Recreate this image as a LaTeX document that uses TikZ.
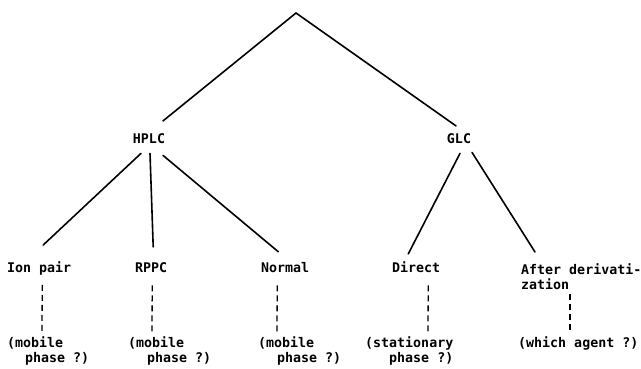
\documentclass[tikz,border=0pt]{standalone}
\usepackage{fontspec}
\newfontfamily\lblfont{DejaVu Sans Mono}
\usetikzlibrary{calc}
\begin{document}
\begin{tikzpicture}[x=1pt,y=-1pt,
  lbl/.style={font=\lblfont\bfseries\fontsize{13.3}{15}\selectfont, inner sep=0pt},
  branch/.style={line width=1.6pt, line cap=round},
  dashline/.style={line width=1.3pt, dash pattern=on 6pt off 4pt}]
\fill[white] (0,0) rectangle (641,369);
\useasboundingbox (0,0) rectangle (641,369);

\coordinate (apex) at (296,13);
\node[lbl, anchor=base] (hplc) at (149,143) {HPLC};
\node[lbl, anchor=base] (glc) at (459,143) {GLC};

\node[lbl, anchor=base west] (ion) at (7,272) {Ion pair};
\node[lbl, anchor=base west] (rppc) at (135,272) {RPPC};
\node[lbl, anchor=base west] (normal) at (261,272) {Normal};
\node[lbl, anchor=base west] (direct) at (392,272) {Direct};
\node[lbl, anchor=north west, align=left] (after) at (521,263) {After derivati-\\zation};

\node[lbl, anchor=north west, align=left] (q1) at (7,336) {(mobile\\\hspace*{18pt}phase ?)};
\node[lbl, anchor=north west, align=left] (q2) at (128,336) {(mobile\\\hspace*{19pt}phase ?)};
\node[lbl, anchor=north west, align=left] (q3) at (258,336) {(mobile\\\hspace*{19pt}phase ?)};
\node[lbl, anchor=north west, align=right] (q4) at (365,336) {(stationary\\phase ?)};
\node[lbl, anchor=north west] (q5) at (518,336) {(which agent ?)};

% top level
\draw[branch] ([xshift=14pt,yshift=12pt]hplc.north) -- (apex) -- ([xshift=-3pt,yshift=7pt]glc.north);

% HPLC children
\draw[branch] ([xshift=-8pt,yshift=-10pt]hplc.south) -- ([xshift=4pt,yshift=16pt]ion.north);
\draw[branch] ([xshift=1pt,yshift=-10pt]hplc.south) -- ([xshift=2pt,yshift=15pt]rppc.north);
\draw[branch] ([xshift=14pt,yshift=-12pt]hplc.south) -- ([xshift=-7pt,yshift=10pt]normal.north);

% GLC children
\draw[branch] ([xshift=1pt,yshift=-10pt]glc.south) -- ([xshift=-8pt,yshift=7pt]direct.north);
\draw[branch] ([xshift=13pt,yshift=-9pt]glc.south) -- ([xshift=14pt,yshift=11pt]after.north west);

% dashed links
\draw[dashline] ([xshift=3pt,yshift=-10pt]ion.south) -- ([xshift=35pt,yshift=2pt]q1.north west);
\draw[dashline] ([xshift=1pt,yshift=-13pt]rppc.south) -- ([xshift=24pt,yshift=2pt]q2.north west);
\draw[dashline] ([xshift=-8pt,yshift=-13pt]normal.south) -- ([xshift=19pt,yshift=2pt]q3.north west);
\draw[dashline] ([xshift=12pt,yshift=-13pt]direct.south) -- ([xshift=63pt,yshift=2pt]q4.north west);
\draw[dashline] ([xshift=49pt,yshift=-5pt]after.south west) -- ([xshift=52pt,yshift=2pt]q5.north west);
\end{tikzpicture}
\end{document}
